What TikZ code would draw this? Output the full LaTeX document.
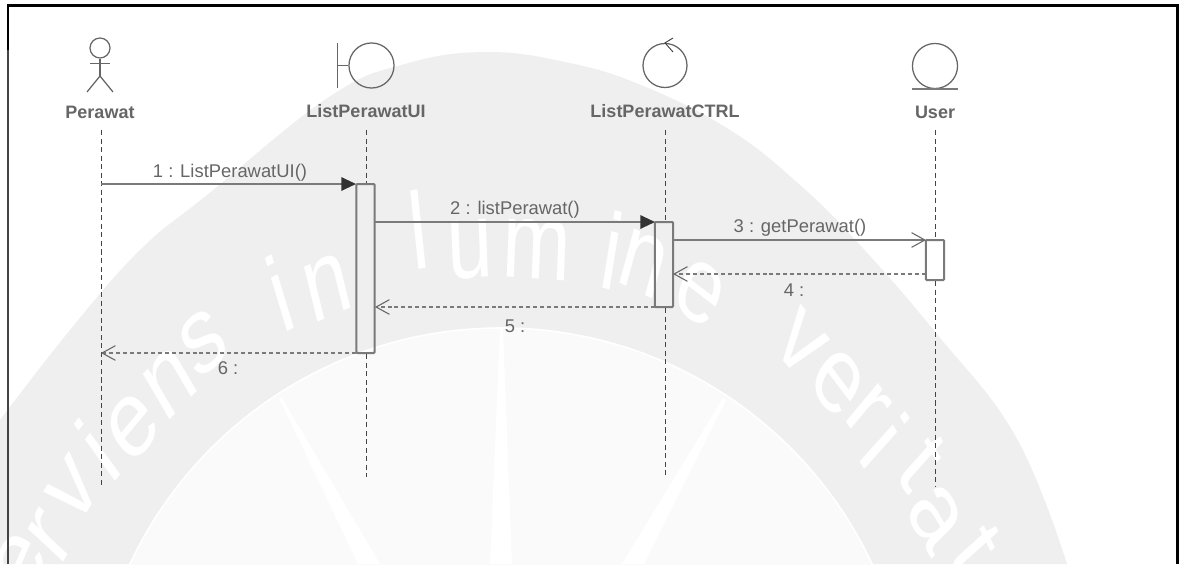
\documentclass[tikz,border=0pt]{standalone}
\usepackage{fontspec}
\setmainfont{Liberation Sans}
\usetikzlibrary{arrows.meta}
\definecolor{band}{HTML}{EFEFEF}
\definecolor{disc}{HTML}{FAFAFA}
\definecolor{ink}{HTML}{666666}
\definecolor{linegray}{HTML}{7A7A7A}
\definecolor{dashgray}{HTML}{444444}
\tikzset{
  px/.style={x=0.75pt,y=-0.75pt},
  lifeline/.style={draw=dashgray,line width=0.75pt,dash pattern=on 3.8pt off 2.6pt},
  icon/.style={draw=ink,line width=0.95pt},
  headlabel/.style={font=\fontsize{13.5pt}{15pt}\selectfont\bfseries,text=ink,inner sep=0pt},
  msglabel/.style={font=\fontsize{13.8pt}{15pt}\selectfont,text=ink,inner sep=0pt},
  activation/.style={draw=linegray,line width=1.5pt,rounded corners=0.8pt,minimum width=13.8pt,inner sep=0pt},
  syncmsg/.style={draw=linegray,line width=1.5pt,-{Triangle[length=11pt,width=10pt,color=black!80]}},
  openmsg/.style={draw=linegray,line width=1.4pt,-{Straight Barb[length=10pt,width=11pt,line width=0.8pt,color=ink]}},
  retmsg/.style={draw=linegray,line width=1.5pt,dash pattern=on 3pt off 2.2pt,-{Straight Barb[length=10pt,width=11pt,line width=0.8pt,color=ink]}},
  wmletter/.style={font=\fontsize{82pt}{84pt}\selectfont,text=white,inner sep=0pt,xscale=0.75},
}
\begin{document}
\begin{tikzpicture}[px]
\useasboundingbox (0,0) rectangle (1181,564);
\clip (0,0) rectangle (1181,564);
% watermark
\fill[band] (-10,564) -- (-10,432) -- plot[smooth,tension=.7] coordinates {(0,420) (70,330) (140,250) (207,195) (329,97) (405,64) (485,52) (565,62) (641,85) (730,130) (800,185) (860,245) (936,333) (1016,437) (1067,564)} -- cycle;
\fill[disc,draw=white,line width=1.2pt] (501,737.6) circle[radius=409.6];
\fill[white] (279,398) -- (282,398) -- (380,564) -- (358,564) -- cycle;
\fill[white] (500,329) -- (503,329) -- (512,564) -- (490,564) -- cycle;
\fill[white] (723,398) -- (726,400) -- (644,564) -- (622,564) -- cycle;
\foreach \wx/\wy/\wr/\wt [count=\wi] in {
  20/565/60/e, 50/537/55/r, 73/490/50/v, 97/450/44/i, 133/427/42/e, 170/383/38/n, 203/343/32/s,
  280/293/22/i, 327/287/18/n,
  418/230/8/l, 470/250/3/u, 537/250/-3/m, 613/250/-12/i, 643/263/-20/n, 700/293/-30/e,
  801/343/-42/v, 838/383/-45/e, 868/410/-48/r, 885/440/-50/i, 922/463/-50/t, 936/517/-53/a, 976/550/-56/t}
  \node[wmletter,rotate=\wr] (wm\wi) at (\wx,\wy) {\wt};
% frame
\draw[dashgray,line width=1.6pt] (8,564) -- (8,48);
\draw[black,line width=2.2pt] (8,50) -- (8,5.5) -- (1177.5,5.5) -- (1177.5,564);
% activations
\node[activation,minimum height=126.75pt] (uBox) at (365.5,268.5) {};
\node[activation,minimum height=63.75pt] (cBox) at (664,264.5) {};
\node[activation,minimum height=30pt] (eBox) at (935,260) {};
% lifelines
\coordinate (pTop) at (101.3,130); \coordinate (pEnd) at (101.3,487);
\coordinate (uTop) at (366.5,130); \coordinate (uEnd) at (366.5,477);
\coordinate (cTop) at (665.5,130); \coordinate (cEnd) at (665.5,477);
\coordinate (eTop) at (935.5,130); \coordinate (eEnd) at (935.5,487);
\draw[lifeline] (pTop) -- (pEnd);
\draw[lifeline] (uTop) -- (uTop |- uBox.north);
\draw[lifeline] (uTop |- uBox.south) -- (uEnd);
\draw[lifeline] (cTop) -- (cTop |- cBox.north);
\draw[lifeline] (cTop |- cBox.south) -- (cEnd);
\draw[lifeline] (eTop) -- (eTop |- eBox.north);
\draw[lifeline] (eTop |- eBox.south) -- (eEnd);
% actor
\node[circle,icon,minimum size=15pt,inner sep=0pt] (actorHead) at (100,48) {};
\coordinate (actorHip) at (100,76);
\coordinate (armL) at (90,63.5); \coordinate (armR) at (109.5,63.5);
\coordinate (legL) at (87,92); \coordinate (legR) at (113,92);
\draw[icon] (actorHead.south) -- (actorHip);
\draw[icon] (armL) -- (armR);
\draw[icon] (legL) -- (actorHip) -- (legR);
% boundary
\node[circle,icon,minimum size=33.8pt,inner sep=0pt] (uiCircle) at (371.5,65.5) {};
\coordinate (barTop) at (337.5,43); \coordinate (barBot) at (337.5,88); \coordinate (barMid) at (337.5,65.5);
\draw[icon] (barTop) -- (barBot);
\draw[icon] (barMid) -- (uiCircle.west);
% control
\node[circle,icon,minimum size=33pt,inner sep=0pt] (ctrlCircle) at (665,65.5) {};
\coordinate (chevA) at (673,38); \coordinate (chevB) at (673,52);
\draw[icon,draw=black!75,line width=0.7pt] (chevA) -- (ctrlCircle.north) -- (chevB);
% entity
\node[circle,icon,minimum size=33.8pt,inner sep=0pt] (entCircle) at (935,66) {};
\coordinate (entL) at (912,88.7); \coordinate (entR) at (958,88.7);
\draw[icon,draw=linegray,line width=1.3pt] (entL) -- (entR);
% heads
\node[headlabel] (pLabel) at (100,112) {Perawat};
\node[headlabel] (uLabel) at (366,111.5) {ListPerawatUI};
\node[headlabel] (cLabel) at (665,111.5) {ListPerawatCTRL};
\node[headlabel] (eLabel) at (935,112) {User};
% messages
\coordinate (m1s) at (101,184);
\coordinate (m1e) at (356,184);
\coordinate (m2s) at (375,222);
\coordinate (m2e) at (655,222);
\coordinate (m3s) at (673,240);
\coordinate (m3e) at (926,240);
\coordinate (m4s) at (926,274);
\coordinate (m4e) at (673,274);
\coordinate (m5s) at (655,307);
\coordinate (m5e) at (375,307);
\coordinate (m6s) at (356,353);
\coordinate (m6e) at (101,353);
\draw[syncmsg] (m1s) -- (m1e);
\draw[syncmsg] (m2s) -- (m2e);
\draw[openmsg] (m3s) -- (m3e);
\draw[retmsg] (m4s) -- (m4e);
\draw[retmsg] (m5s) -- (m5e);
\draw[retmsg] (m6s) -- (m6e);
\node[msglabel] (l1) at (230,172.5) {1 : ListPerawatUI()};
\node[msglabel] (l2) at (515,210) {2 : listPerawat()};
\node[msglabel] (l3) at (800,228) {3 : getPerawat()};
\node[msglabel] (l4) at (794,290) {4 :};
\node[msglabel] (l5) at (515,326) {5 :};
\node[msglabel] (l6) at (228,368) {6 :};
\end{tikzpicture}
\end{document}
